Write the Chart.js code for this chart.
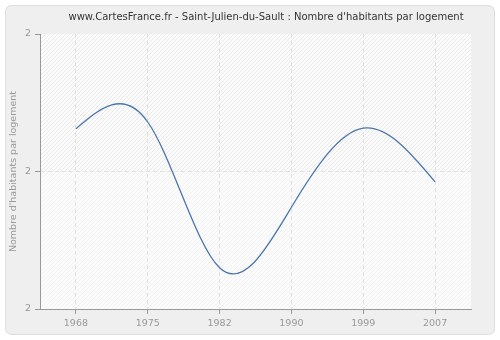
<!DOCTYPE html>
<html>
<head>
<meta charset="utf-8">
<script src="https://cdn.jsdelivr.net/npm/chart.js@4.4.0/dist/chart.umd.min.js"></script>
<style>
  html, body { margin: 0; padding: 0; background: #fff; }
</style>
</head>
<body>
<canvas id="chart" width="500" height="340"></canvas>
<script>
const chartTitle = "www.CartesFrance.fr - Saint-Julien-du-Sault : Nombre d'habitants par logement";
const axisTitle = "Nombre d'habitants par logement";

const years = ['1968', '1975', '1982', '1990', '1999', '2007'];
const habitantsParLogement = [2.162, 2.172, 1.960, 2.048, 2.163, 2.085];

const yTickValues = [1.9, 2.1, 2.3];
const yTickLabels = ['2', '2', '2'];

const FONT = '"DejaVu Sans", sans-serif';

// hatched tile for the plot background
function hatch(base, line) {
    const c = document.createElement('canvas');
    c.width = 4; c.height = 4;
    const g = c.getContext('2d');
    g.fillStyle = base;
    g.fillRect(0, 0, 4, 4);
    g.strokeStyle = line;
    g.lineWidth = 1;
    g.beginPath();
    g.moveTo(-1, 5); g.lineTo(5, -1);
    g.moveTo(-1, 1); g.lineTo(1, -1);
    g.moveTo(3, 5); g.lineTo(5, 3);
    g.stroke();
    return c;
}

const background = {
    id: 'background',
    beforeDraw(chart) {
        const ctx = chart.ctx;
        const a = chart.chartArea;
        ctx.save();
        ctx.fillStyle = '#fff';
        ctx.fillRect(0, 0, chart.width, chart.height);
        ctx.beginPath();
        ctx.roundRect(5.5, 5.5, 489, 329, 6);
        ctx.fillStyle = '#efefef';
        ctx.fill();
        ctx.strokeStyle = '#dddddd';
        ctx.stroke();

        const mid = chart.scales.y.getPixelForValue(yTickValues[1]);
        ctx.fillStyle = ctx.createPattern(hatch('#fbfbfb', '#eaeaea'), 'repeat');
        ctx.fillRect(a.left, a.top, a.right - a.left, mid - a.top);
        ctx.fillStyle = ctx.createPattern(hatch('#fbfbfb', '#f3f3f3'), 'repeat');
        ctx.fillRect(a.left, mid, a.right - a.left, a.bottom - mid);
        ctx.restore();
    },
    afterDraw(chart) {
        const ctx = chart.ctx;
        ctx.save();
        ctx.font = '10px ' + FONT;
        ctx.fillStyle = '#333';
        ctx.textAlign = 'center';
        ctx.textBaseline = 'middle';
        ctx.fillText(chartTitle, 266, 17);
        ctx.restore();
    }
};

// natural cubic spline through the points, set as bezier control points
const naturalSpline = {
    id: 'naturalSpline',
    beforeDatasetDraw(chart, args) {
        const meta = args.meta;
        const pts = meta.data;
        const n = pts.length;
        if (n < 3) return;
        meta.dataset.updateControlPoints(chart.chartArea, 'x');

        const h = [];
        for (let i = 0; i < n - 1; i++) h.push(pts[i + 1].x - pts[i].x);
        const M = new Array(n).fill(0);
        const c = new Array(n).fill(0);
        const d = new Array(n).fill(0);
        for (let i = 1; i < n - 1; i++) {
            const a = h[i - 1], b = 2 * (h[i - 1] + h[i]), cc = h[i];
            const r = 6 * ((pts[i + 1].y - pts[i].y) / h[i] - (pts[i].y - pts[i - 1].y) / h[i - 1]);
            const den = b - a * c[i - 1];
            c[i] = cc / den;
            d[i] = (r - a * d[i - 1]) / den;
        }
        for (let i = n - 2; i >= 1; i--) M[i] = d[i] - c[i] * M[i + 1];

        for (let i = 0; i < n - 1; i++) {
            const p = pts[i], q = pts[i + 1];
            const s = (q.y - p.y) / h[i];
            const d0 = s - h[i] * (2 * M[i] + M[i + 1]) / 6;
            const d1 = s + h[i] * (M[i] + 2 * M[i + 1]) / 6;
            p.cp2x = p.x + h[i] / 3;
            p.cp2y = p.y + d0 * h[i] / 3;
            q.cp1x = q.x - h[i] / 3;
            q.cp1y = q.y - d1 * h[i] / 3;
        }
    }
};

new Chart(document.getElementById('chart'), {
    type: 'line',
    data: {
        labels: years,
        datasets: [
            {
                label: axisTitle,
                data: habitantsParLogement,
                borderColor: '#4a76ad',
                borderWidth: 1.3,
                pointRadius: 0,
                fill: false,
                tension: 0.4,
            },
        ],
    },
    options: {
        responsive: false,
        animation: false,
        layout: {
            padding: { top: 34, right: 29, bottom: 0, left: 0 },
        },
        plugins: {
            legend: { display: false },
            title: { display: false },
            tooltip: { enabled: false },
        },
        scales: {
            x: {
                offset: true,
                afterFit: (scale) => { scale.height = 31; },
                grid: {
                    offset: false,
                    color: '#e3e3e3',
                    tickColor: '#999',
                    tickLength: 5,
                },
                border: { color: '#999', dash: [4, 3] },
                ticks: {
                    color: '#999',
                    font: { family: FONT, size: 9.5 },
                    padding: 4,
                    maxRotation: 0,
                },
            },
            y: {
                min: yTickValues[0],
                max: yTickValues[yTickValues.length - 1],
                afterBuildTicks: (scale) => {
                    scale.ticks = yTickValues.map((v) => ({ value: v }));
                },
                afterFit: (scale) => { scale.width = 40; },
                grid: {
                    color: (ctx) => (ctx.tick && ctx.tick.value === yTickValues[1] ? '#e3e3e3' : 'rgba(0,0,0,0)'),
                    tickColor: '#999',
                    tickLength: 5,
                },
                border: { color: '#999', dash: [4, 3] },
                ticks: {
                    color: '#999',
                    font: { family: FONT, size: 9.5 },
                    padding: 4,
                    callback: (value, index) => yTickLabels[index],
                },
                title: {
                    display: true,
                    text: axisTitle,
                    color: '#999',
                    font: { family: FONT, size: 9.5 },
                    padding: { top: 8, bottom: 0 },
                },
            },
        },
    },
    plugins: [background, naturalSpline],
});
</script>
</body>
</html>
